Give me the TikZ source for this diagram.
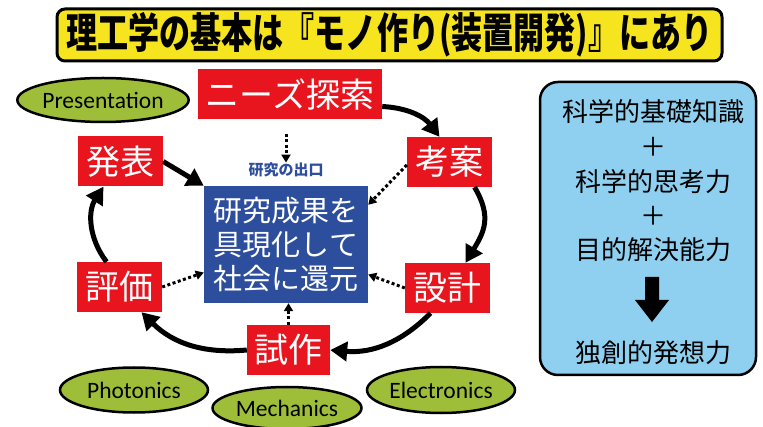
\documentclass[tikz,border=0pt]{standalone}
\usepackage{fontspec}
\usepackage{graphicx}
\setmainfont{Noto Sans CJK JP}
\newfontfamily\carl{Carlito}
\usetikzlibrary{arrows.meta,shapes.geometric}
\definecolor{rd}{HTML}{E8141E}
\definecolor{bl}{HTML}{2D4E9C}
\definecolor{gr}{HTML}{9EBE3A}
\definecolor{lb}{HTML}{8FD0F0}
\definecolor{yl}{HTML}{F5E41E}
\definecolor{outc}{HTML}{2D4E9C}
\tikzset{
  redbox/.style={fill=rd, text=white, inner sep=0pt, minimum height=50pt,
    font=\fontsize{34}{34}\selectfont},
  oval/.style={ellipse, draw=black, line width=2.5pt, fill=gr, inner sep=0pt,
    font=\carl\fontsize{23.5}{23.5}\selectfont},
  cyc/.style={line width=5pt, -{Triangle[length=17pt,width=19pt]}},
  dotar/.style={line width=3pt, dash pattern=on 3pt off 2.5pt, -{Triangle[length=8pt,width=9pt]}},
  rtext/.style={font=\fontsize{26}{26}\selectfont}
}
\begin{document}
\begin{tikzpicture}[x=1pt,y=-1pt]
\useasboundingbox (0,0) rectangle (763,427);
\fill[white] (0,0) rectangle (763,427);
% title
\node[draw=black, line width=3pt, fill=yl, rounded corners=8pt, minimum width=665pt,
  minimum height=52pt, inner sep=0pt] (title) at (389.5,35)
  {\bfseries\fontsize{42}{42}\selectfont\scalebox{0.74}[1]{理工学の基本は『モノ作り(装置開発)』にあり}};
% red boxes
\node[redbox, minimum width=184pt] (nz) at (290,94.5) {ニーズ探索};
\node[redbox, minimum width=85pt] (ha) at (120.5,161.5) {発表};
\node[redbox, minimum width=85pt] (ko) at (449.5,162) {考案};
\node[redbox, minimum width=85pt] (hy) at (119.5,287) {評価};
\node[redbox, minimum width=85pt] (se) at (447.5,288) {設計};
\node[redbox, minimum width=83pt] (sa) at (288.5,350) {試作};
% blue box
\node[fill=bl, text=white, minimum width=164pt, minimum height=117pt, inner sep=0pt,
  align=center, font=\fontsize{29}{34}\selectfont] (bx) at (286,244.5)
  {研究成果を\\具現化して\\社会に還元};
\node[text=outc, font=\bfseries\fontsize{15}{15}\selectfont, inner sep=0pt] (out) at (286,170) {研究の出口};
% ellipses
\node[oval, minimum width=169pt, minimum height=44pt] (pr) at (103,100) {Presentation};
\node[oval, minimum width=148pt, minimum height=45pt] (ph) at (134,390) {Photonics};
\node[oval, minimum width=149pt, minimum height=42pt] (me) at (287,408) {Mechanics};
\node[oval, minimum width=148pt, minimum height=46pt] (el) at (441,390) {Electronics};
% cycle arrows
\draw[cyc] ([yshift=-12pt]nz.east) to[bend left=25] ([xshift=-10pt]ko.north);
\draw[cyc] ([xshift=25pt]ko.south) .. controls +(18,30) and +(18,-30) .. ([xshift=18pt]se.north);
\draw[cyc] ([xshift=-17pt]se.south) to[bend left=25] (sa.east);
\draw[cyc] (sa.west) to[bend left=25] ([xshift=22pt]hy.south);
\draw[cyc] ([xshift=-13pt]hy.north) to[bend left=35] ([xshift=-17pt]ha.south);
\draw[cyc] (ha.east) -- (bx.north west);
% dotted arrows
\draw[dotar, shorten <=14pt] (out.north |- nz.south) -- (out.north);
\draw[dotar] ([yshift=-3pt]ko.west) -- ([yshift=-19pt]bx.north east);
\draw[dotar] (se.west) -- ([yshift=-30pt]bx.east);
\draw[dotar] (hy.east) -- ([yshift=-28pt]bx.west);
\draw[dotar] (sa.north) -- (sa.north |- bx.south);
% right box
\node[draw=black, line width=2.5pt, fill=lb, rounded corners=18pt, minimum width=216pt,
  minimum height=293pt, inner sep=0pt] (rb) at (648,228.5) {};
\node[rtext] (t1) at (653,112) {科学的基礎知識};
\node[rtext] (p1) at (653,147) {＋};
\node[rtext] (t2) at (653,182) {科学的思考力};
\node[rtext] (p2) at (653,216) {＋};
\node[rtext] (t3) at (653,250) {目的解決能力};
\node[rtext] (t4) at (653,353) {独創的発想力};
\coordinate (ar) at (652,300);
\fill[black] ([xshift=-7pt,yshift=23pt]ar) -- ([xshift=7pt,yshift=23pt]ar) -- ([xshift=7pt]ar)
  -- ([xshift=17pt]ar) -- ([yshift=-22pt]ar) -- ([xshift=-17pt]ar) -- ([xshift=-7pt]ar) -- cycle;
\end{tikzpicture}
\end{document}
